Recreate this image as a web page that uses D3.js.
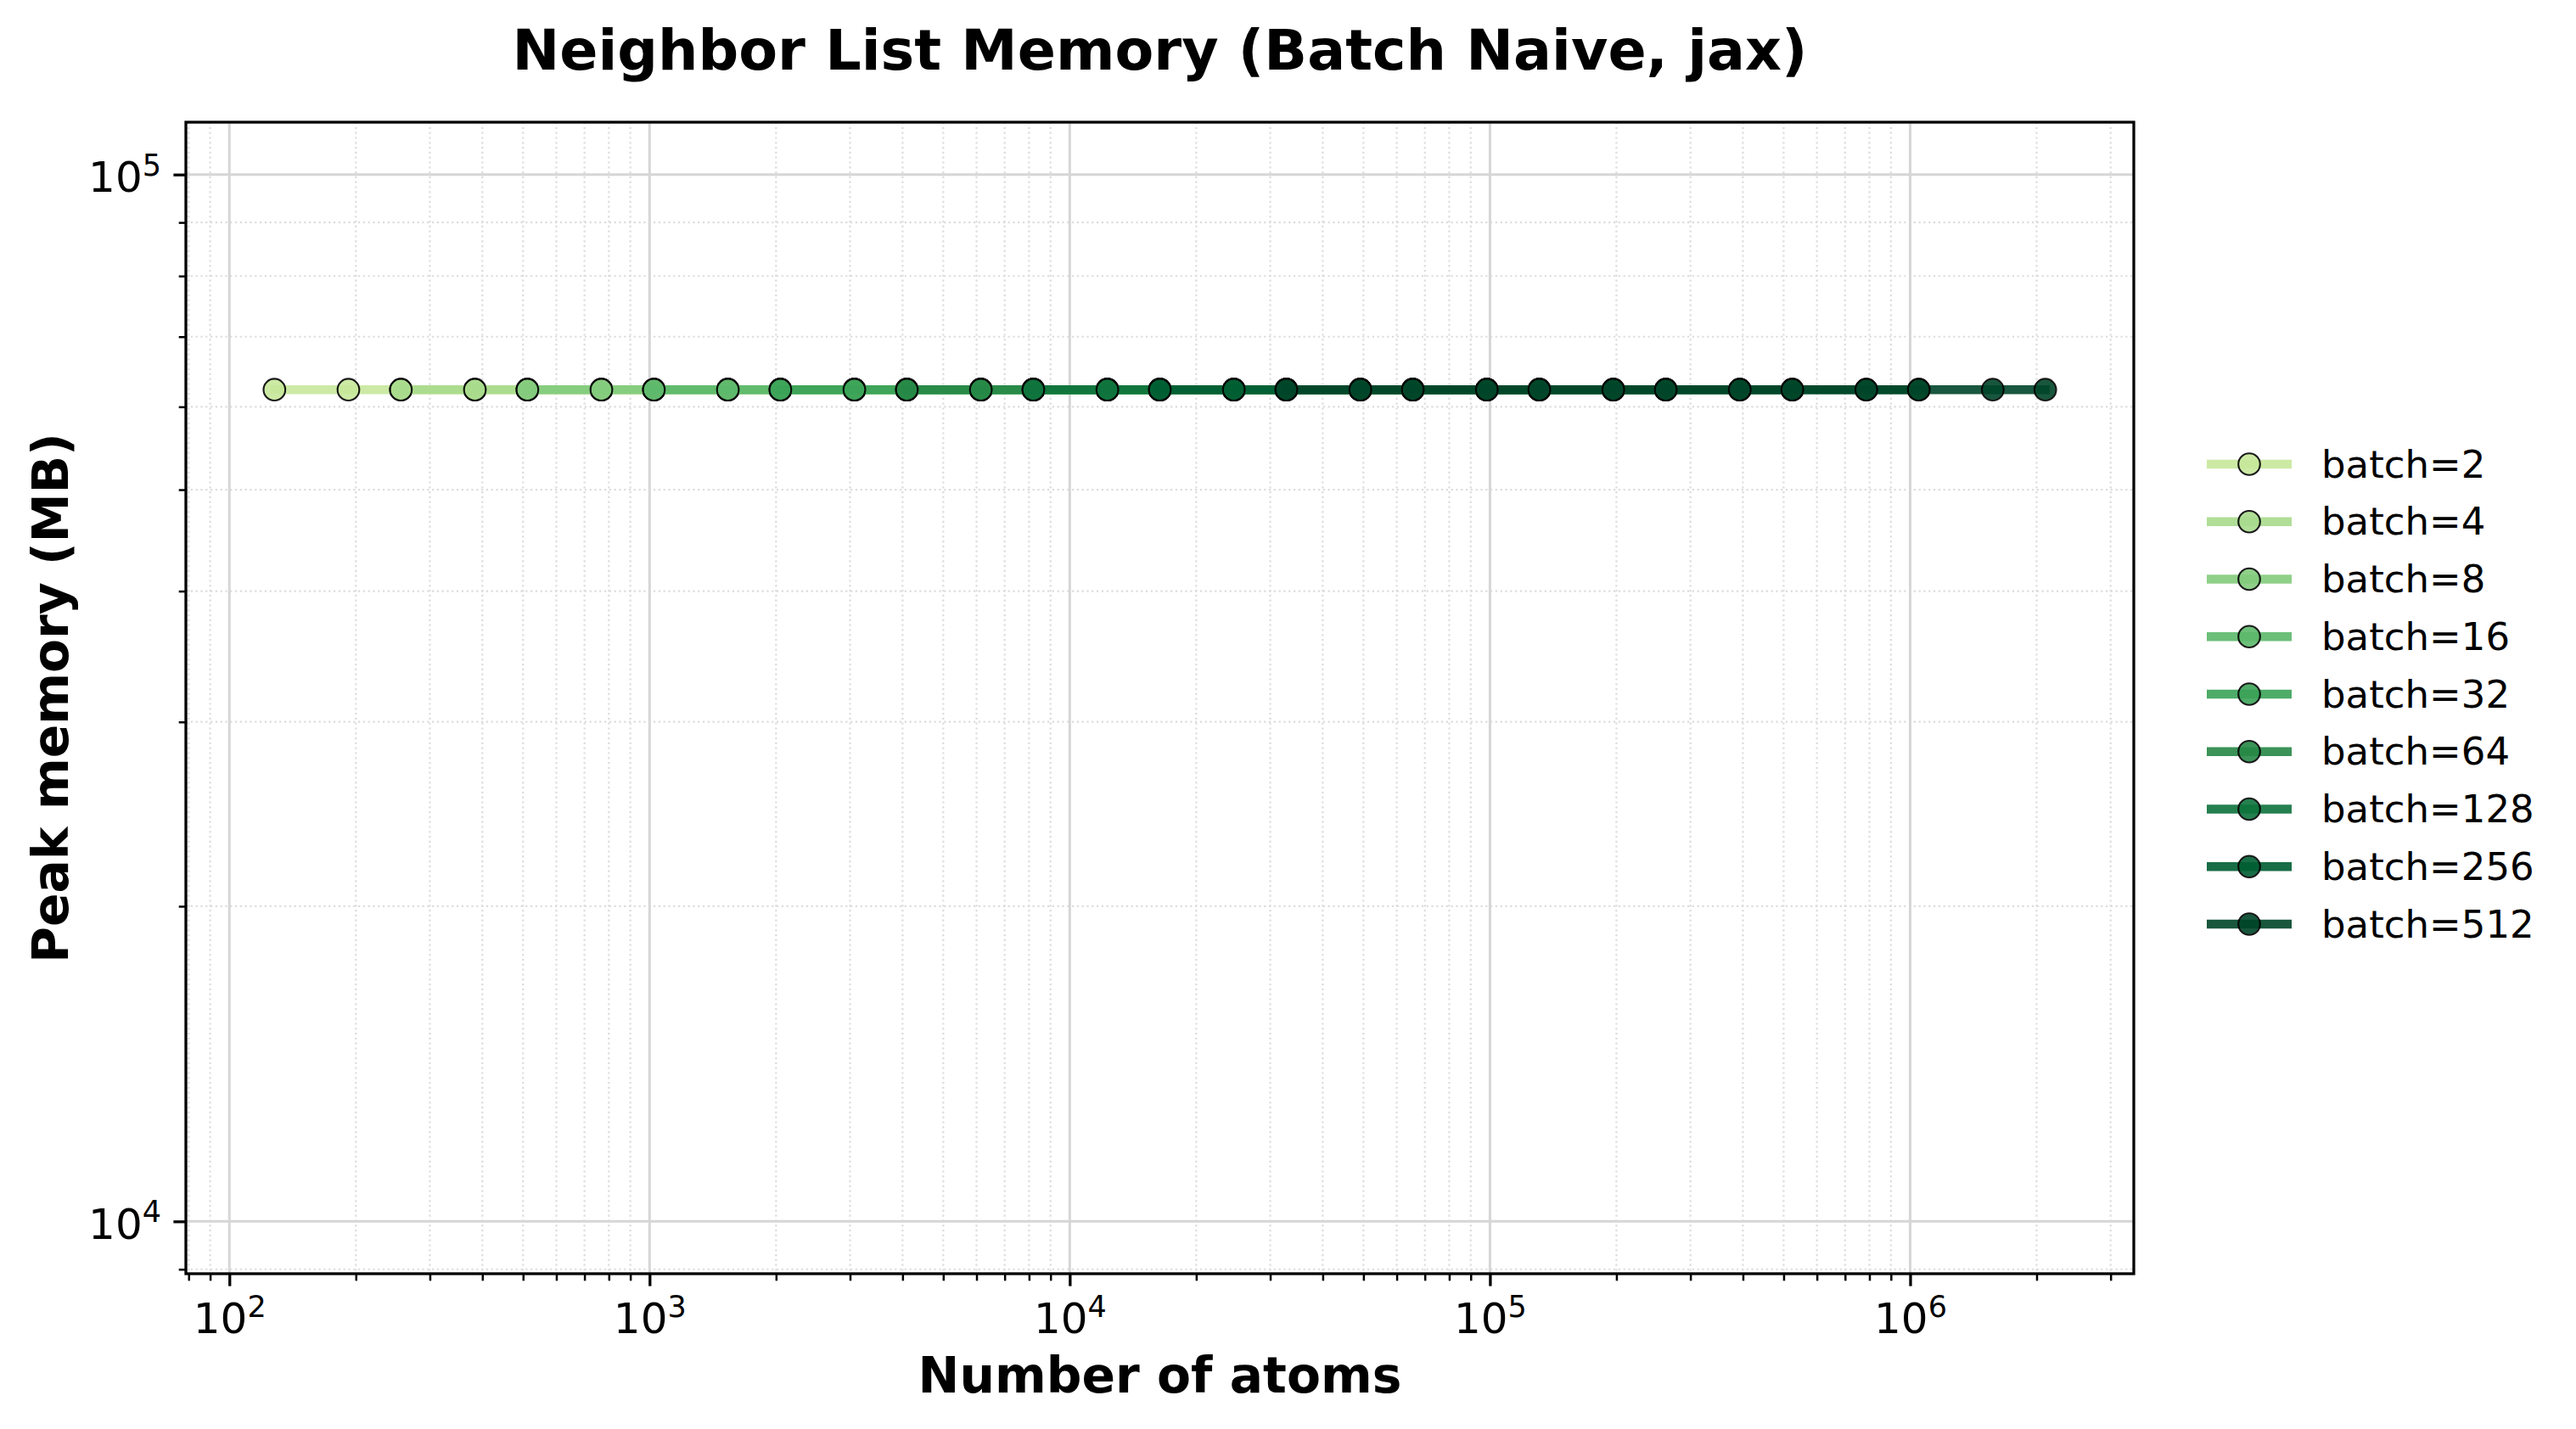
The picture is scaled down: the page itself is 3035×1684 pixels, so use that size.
<!DOCTYPE html>
<html>
<head>
<meta charset="utf-8">
<script src="https://cdn.jsdelivr.net/npm/d3@7"></script>
<style>
  html, body { margin: 0; padding: 0; background: #fff; }
  svg { display: block; font-family: "DejaVu Sans", sans-serif; }
</style>
</head>
<body>
<svg id="chart" width="3035" height="1684"></svg>
<script>
// ---------------- data ----------------
const chartTitle = "Neighbor List Memory (Batch Naive, jax)";
const xLabel = "Number of atoms";
const yLabel = "Peak memory (MB)";
const batchSizes = [2, 4, 8, 16, 32, 64, 128, 256, 512];
const atoms_b2   = [128, 192, 256, 384, 512, 768, 1024, 1536, 2048, 3072, 4096, 6144, 8192];
const atoms_b4   = [256, 384, 512, 768, 1024, 1536, 2048, 3072, 4096, 6144, 8192, 12288, 16384];
const atoms_b8   = [512, 768, 1024, 1536, 2048, 3072, 4096, 6144, 8192, 12288, 16384, 24576, 32768];
const atoms_b16  = [1024, 1536, 2048, 3072, 4096, 6144, 8192, 12288, 16384, 24576, 32768, 49152, 65536];
const atoms_b32  = [2048, 3072, 4096, 6144, 8192, 12288, 16384, 24576, 32768, 49152, 65536, 98304, 131072];
const atoms_b64  = [4096, 6144, 8192, 12288, 16384, 24576, 32768, 49152, 65536, 98304, 131072, 196608, 262144];
const atoms_b128 = [8192, 12288, 16384, 24576, 32768, 49152, 65536, 98304, 131072, 196608, 262144, 393216, 524288];
const atoms_b256 = [16384, 24576, 32768, 49152, 65536, 98304, 131072, 196608, 262144, 393216, 524288, 786432, 1048576];
const atoms_b512 = [32768, 49152, 65536, 98304, 131072, 196608, 262144, 393216, 524288, 786432, 1048576, 1572864, 2097152];
const mem_b2   = [62300, 62300, 62300, 62300, 62300, 62300, 62300, 62300, 62300, 62300, 62300, 62300, 62300];
const mem_b4   = [62300, 62300, 62300, 62300, 62300, 62300, 62300, 62300, 62300, 62300, 62300, 62300, 62300];
const mem_b8   = [62300, 62300, 62300, 62300, 62300, 62300, 62300, 62300, 62300, 62300, 62300, 62300, 62300];
const mem_b16  = [62300, 62300, 62300, 62300, 62300, 62300, 62300, 62300, 62300, 62300, 62300, 62300, 62300];
const mem_b32  = [62300, 62300, 62300, 62300, 62300, 62300, 62300, 62300, 62300, 62300, 62300, 62300, 62300];
const mem_b64  = [62300, 62300, 62300, 62300, 62300, 62300, 62300, 62300, 62300, 62300, 62300, 62300, 62300];
const mem_b128 = [62300, 62300, 62300, 62300, 62300, 62300, 62300, 62300, 62300, 62300, 62300, 62300, 62300];
const mem_b256 = [62300, 62300, 62300, 62300, 62300, 62300, 62300, 62300, 62300, 62300, 62300, 62300, 62300];
const mem_b512 = [62300, 62300, 62300, 62300, 62300, 62300, 62300, 62300, 62300, 62300, 62300, 62300, 62300];
const atomsList = [atoms_b2, atoms_b4, atoms_b8, atoms_b16, atoms_b32, atoms_b64, atoms_b128, atoms_b256, atoms_b512];
const memList = [mem_b2, mem_b4, mem_b8, mem_b16, mem_b32, mem_b64, mem_b128, mem_b256, mem_b512];
const xMajorTicks = [1e2, 1e3, 1e4, 1e5, 1e6];
const xTickExponents = ["2", "3", "4", "5", "6"];
const yMajorTicks = [1e4, 1e5];
const yTickExponents = ["4", "5"];

// ---------------- styles ----------------
const W = 3035, H = 1684;
const M = { left: 219, right: 2514, top: 144, bottom: 1501 };
const ylGnStops = ["#ffffe5", "#f7fcb9", "#d9f0a3", "#addd8e", "#78c679", "#41ab5d", "#238443", "#006837", "#004529"];
const ylGn = d3.scaleLinear().domain(d3.range(9).map(i => i / 8)).range(ylGnStops).interpolate(d3.interpolateRgb);
const colors = batchSizes.map((b, i) => ylGn(0.3 + 0.7 * i / (batchSizes.length - 1)));
const ALPHA = 0.9;
const LINE_W = 10.4, MARK_R = 12.8, MARK_SW = 2.1;

const svg = d3.select("#chart");
svg.append("rect").attr("width", W).attr("height", H).attr("fill", "#fff");

const xMin = Math.pow(10, 1.8965), xMax = Math.pow(10, 6.5323);
const x = d3.scaleLog().domain([xMin, xMax]).range([M.left, M.right]);
const y = d3.scaleLog().domain([Math.pow(10, 3.95), Math.pow(10, 5.05)]).range([M.bottom, M.top]);

// minor tick values
const xMinor = [];
for (let e = 1; e <= 6; e++) for (let m = 2; m <= 9; m++) { const v = m * Math.pow(10, e); if (v >= xMin && v <= xMax) xMinor.push(v); }
const yMinor = [];
for (let e = 3; e <= 5; e++) for (let m = 2; m <= 9; m++) { const v = m * Math.pow(10, e); const d = y.domain(); if (v >= d[0] && v <= d[1]) yMinor.push(v); }

// grid
const grid = svg.append("g");
grid.selectAll(".gxm").data(xMinor).join("line")
  .attr("x1", d => x(d)).attr("x2", d => x(d)).attr("y1", M.top).attr("y2", M.bottom)
  .attr("stroke", "#dcdcdc").attr("stroke-width", 2.2).attr("stroke-dasharray", "2.2,3.6");
grid.selectAll(".gym").data(yMinor).join("line")
  .attr("y1", d => y(d)).attr("y2", d => y(d)).attr("x1", M.left).attr("x2", M.right)
  .attr("stroke", "#dcdcdc").attr("stroke-width", 2.2).attr("stroke-dasharray", "2.2,3.6");
grid.selectAll(".gx").data(xMajorTicks).join("line")
  .attr("x1", d => x(d)).attr("x2", d => x(d)).attr("y1", M.top).attr("y2", M.bottom)
  .attr("stroke", "#d6d6d6").attr("stroke-width", 3);
grid.selectAll(".gy").data(yMajorTicks).join("line")
  .attr("y1", d => y(d)).attr("y2", d => y(d)).attr("x1", M.left).attr("x2", M.right)
  .attr("stroke", "#d6d6d6").attr("stroke-width", 3);

// series
svg.append("defs").append("clipPath").attr("id", "clip").append("rect")
  .attr("x", M.left).attr("y", M.top).attr("width", M.right - M.left).attr("height", M.bottom - M.top);
const plot = svg.append("g").attr("clip-path", "url(#clip)");
const line = d3.line().x(d => x(d[0])).y(d => y(d[1]));
batchSizes.forEach((b, i) => {
  const pts = atomsList[i].map((a, j) => [a, memList[i][j]]);
  const g = plot.append("g");
  g.append("path").datum(pts).attr("d", line)
    .attr("fill", "none").attr("stroke", colors[i]).attr("stroke-width", LINE_W)
    .attr("stroke-linecap", "square").attr("opacity", ALPHA);
  g.selectAll("circle").data(pts).join("circle")
    .attr("cx", d => x(d[0])).attr("cy", d => y(d[1])).attr("r", MARK_R)
    .attr("fill", colors[i]).attr("stroke", "#000").attr("stroke-width", MARK_SW)
    .attr("opacity", ALPHA);
});

// axes
const xAxisG = svg.append("g").attr("transform", `translate(0,${M.bottom})`);
xAxisG.call(d3.axisBottom(x).tickValues(xMinor).tickSize(8.3).tickFormat(""));
xAxisG.call(g => g.selectAll(".tick line").attr("stroke-width", 2.5));
const xMajG = svg.append("g").attr("transform", `translate(0,${M.bottom})`);
xMajG.call(d3.axisBottom(x).tickValues(xMajorTicks).tickSize(14.6).tickFormat(""));
xMajG.selectAll(".tick line").attr("stroke-width", 3.3);
xMajG.selectAll(".tick").each(function (d, i) {
  const t = d3.select(this).append("text").attr("y", 70).attr("text-anchor", "middle")
    .attr("fill", "#000").attr("font-size", 50).attr("font-family", "DejaVu Sans");
  t.append("tspan").text("10");
  t.append("tspan").attr("dy", -19.5).attr("font-size", 35).text(xTickExponents[i]);
});

const yAxisG = svg.append("g").attr("transform", `translate(${M.left},0)`);
yAxisG.call(d3.axisLeft(y).tickValues(yMinor).tickSize(8.3).tickFormat(""));
yAxisG.selectAll(".tick line").attr("stroke-width", 2.5);
const yMajG = svg.append("g").attr("transform", `translate(${M.left},0)`);
yMajG.call(d3.axisLeft(y).tickValues(yMajorTicks).tickSize(14.6).tickFormat(""));
yMajG.selectAll(".tick line").attr("stroke-width", 3.3);
yMajG.selectAll(".tick").each(function (d, i) {
  const t = d3.select(this).append("text").attr("x", -29).attr("y", 20).attr("text-anchor", "end")
    .attr("fill", "#000").attr("font-size", 50).attr("font-family", "DejaVu Sans");
  t.append("tspan").text("10");
  t.append("tspan").attr("dy", -19.5).attr("font-size", 35).text(yTickExponents[i]);
});
svg.selectAll(".domain").remove();

// frame
svg.append("rect").attr("x", M.left).attr("y", M.top)
  .attr("width", M.right - M.left).attr("height", M.bottom - M.top)
  .attr("fill", "none").attr("stroke", "#000").attr("stroke-width", 3.3);

// titles
svg.append("text").attr("x", (M.left + M.right) / 2).attr("y", 82).attr("text-anchor", "middle")
  .attr("font-size", 66.7).attr("font-weight", "bold").text(chartTitle);
svg.append("text").attr("x", (M.left + M.right) / 2).attr("y", 1641).attr("text-anchor", "middle")
  .attr("font-size", 58.3).attr("font-weight", "bold").text(xLabel);
svg.append("text").attr("transform", `translate(80,${(M.top + M.bottom) / 2}) rotate(-90)`)
  .attr("text-anchor", "middle").attr("font-size", 58.3).attr("font-weight", "bold").text(yLabel);

// legend
const lg = svg.append("g");
batchSizes.forEach((b, i) => {
  const ry = 547 + i * 67.75;
  lg.append("line").attr("x1", 2600).attr("x2", 2700).attr("y1", ry).attr("y2", ry)
    .attr("stroke", colors[i]).attr("stroke-width", LINE_W).attr("opacity", ALPHA);
  lg.append("circle").attr("cx", 2650).attr("cy", ry).attr("r", MARK_R)
    .attr("fill", colors[i]).attr("stroke", "#000").attr("stroke-width", MARK_SW).attr("opacity", ALPHA);
  lg.append("text").attr("x", 2735).attr("y", ry + 15.5).attr("font-size", 45)
    .attr("fill", "#000").text("batch=" + b);
});
</script>
</body>
</html>
